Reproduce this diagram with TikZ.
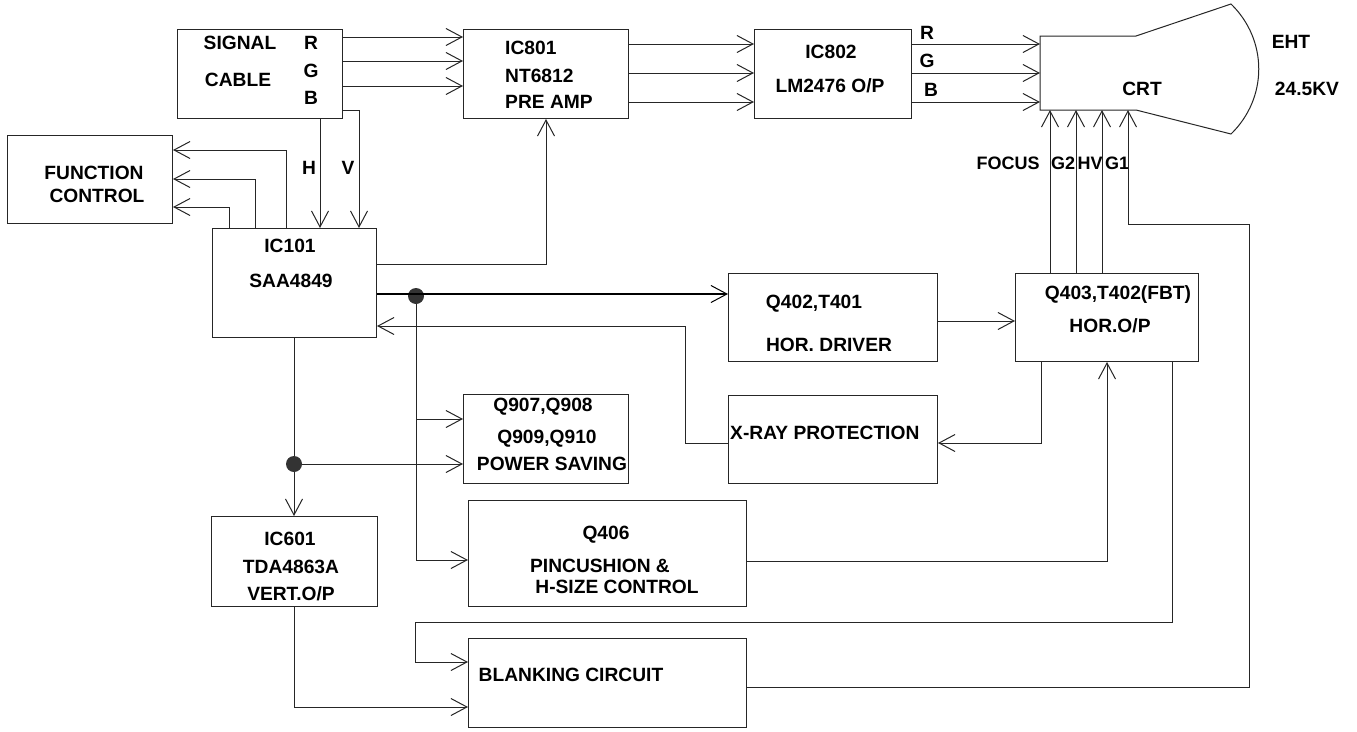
\documentclass[tikz,border=0pt]{standalone}
\usepackage{fontspec}
\setmainfont{Liberation Sans}
\usetikzlibrary{arrows.meta}
\begin{document}
\begin{tikzpicture}[x=1pt,y=-1pt,
  box/.style={draw=black!85, line width=1pt, rectangle, inner sep=0pt, anchor=north west},
  lbl/.style={inner sep=0pt, font=\fontsize{19.2}{23}\selectfont\bfseries, text height=13.7pt, text depth=0pt},
  small/.style={font=\fontsize{18}{22}\selectfont\bfseries, text height=12.9pt},
  wire/.style={draw=black!85, line width=1pt},
  arr/.style={wire, -{Straight Barb[length=16pt,width=17pt]}},
  thickarr/.style={draw=black, line width=1.8pt, -{Straight Barb[length=16pt,width=17pt,line width=1pt]}},
  junction/.style={circle, fill=black!80, inner sep=0pt, minimum size=16pt}]
\fill[white] (0,0) rectangle (1357,731);
\useasboundingbox (0,0) rectangle (1357,731);

% boxes
\node[box, minimum width=165pt, minimum height=89pt] (sig) at (177,29) {};
\node[box, minimum width=165pt, minimum height=89pt] (ic801) at (463,29) {};
\node[box, minimum width=157pt, minimum height=89pt] (ic802) at (754,29) {};
\node[box, minimum width=165pt, minimum height=88pt] (func) at (7,135) {};
\node[box, minimum width=164pt, minimum height=109pt] (ic101) at (212,228) {};
\node[box, minimum width=209pt, minimum height=88pt] (q402) at (728,273) {};
\node[box, minimum width=183pt, minimum height=88pt] (q403) at (1015,273) {};
\node[box, minimum width=209pt, minimum height=88pt] (xray) at (728,395) {};
\node[box, minimum width=165pt, minimum height=89pt] (psave) at (463,394) {};
\node[box, minimum width=166pt, minimum height=90pt] (ic601) at (211,516) {};
\node[box, minimum width=278pt, minimum height=106pt] (q406) at (468,500) {};
\node[box, minimum width=278pt, minimum height=89pt] (blank) at (468,638) {};

% CRT
\draw[wire] (1136,36) -- (1040,36) -- (1040,110) -- (1136,110) -- (1231,134)
  .. controls (1268,98) and (1268,40) .. (1231,4) -- cycle;
\coordinate (crt) at (1040,36);
\coordinate (crtb) at (1040,110);

% texts
\node[lbl] (tsig) at (240,43) {SIGNAL};
\node[lbl] (tcab) at (238,80) {CABLE};
\node[lbl] (tr1) at (311,43) {R};
\node[lbl] (tg1) at (311,71) {G};
\node[lbl] (tb1) at (311,98) {B};
\node[lbl, anchor=west] (t801a) at (505,48) {IC801};
\node[lbl, anchor=west] (t801b) at (505,76) {NT6812};
\node[lbl, anchor=west] (t801c) at (505,102) {PRE AMP};
\node[lbl] (t802a) at (831,52) {IC802};
\node[lbl] (t802b) at (830,86) {LM2476 O/P};
\node[lbl] (tr2) at (927,33) {R};
\node[lbl] (tg2) at (927,61) {G};
\node[lbl] (tb2) at (931,90) {B};
\node[lbl] (tcrt) at (1142,89) {CRT};
\node[lbl] (teht) at (1291,42) {EHT};
\node[lbl] (tkv) at (1307,89) {24.5KV};
\node[lbl, small] (tfoc) at (1008,163) {FOCUS};
\node[lbl, small] (tg2b) at (1063,163) {G2};
\node[lbl, small] (thv) at (1090,163) {HV};
\node[lbl, small] (tg1b) at (1117,163) {G1};
\node[lbl] (tfun) at (94,173) {FUNCTION};
\node[lbl] (tcon) at (97,196) {CONTROL};
\node[lbl] (th) at (309,168) {H};
\node[lbl] (tv) at (348,168) {V};
\node[lbl] (t101a) at (290,246) {IC101};
\node[lbl] (t101b) at (291,281) {SAA4849};
\node[lbl] (t402a) at (814,302) {Q402,T401};
\node[lbl] (t402b) at (829,345) {HOR. DRIVER};
\node[lbl] (t403a) at (1118,293) {Q403,T402(FBT)};
\node[lbl] (t403b) at (1110,326) {HOR.O/P};
\node[lbl, anchor=west] (txr) at (730,433) {X-RAY PROTECTION};
\node[lbl] (tps1) at (543,405) {Q907,Q908};
\node[lbl] (tps2) at (547,437) {Q909,Q910};
\node[lbl] (tps3) at (552,464) {POWER SAVING};
\node[lbl] (t601a) at (290,539) {IC601};
\node[lbl] (t601b) at (291,567) {TDA4863A};
\node[lbl] (t601c) at (291,594) {VERT.O/P};
\node[lbl] (t406a) at (606,533) {Q406};
\node[lbl] (t406b) at (600,566) {PINCUSHION \&};
\node[lbl] (t406c) at (617,587) {H-SIZE CONTROL};
\node[lbl] (tbl) at (571,675) {BLANKING CIRCUIT};

% junctions
\node[junction] (d1) at (416,296) {};
\node[junction] (d2) at (294,464) {};

% connectors
\foreach \yy in {37,61,86} \draw[arr] (sig.east |- 0,\yy) -- (ic801.west |- 0,\yy);
\foreach \yy in {44,73,102} \draw[arr] (ic801.east |- 0,\yy) -- (ic802.west |- 0,\yy);
\foreach \yy in {44,73,102} \draw[arr] (ic802.east |- 0,\yy) -- (crt |- 0,\yy);
\draw[arr] (sig.south -| 320,0) -- (ic101.north -| 320,0);
\draw[arr] (sig.east |- 0,110) -- (359,110) -- (ic101.north -| 359,0);
\draw[arr] (ic101.north -| 286,0) -- (286,150) -- (func.east |- 0,150);
\draw[arr] (ic101.north -| 255,0) -- (255,179) -- (func.east |- 0,179);
\draw[arr] (ic101.north -| 229,0) -- (229,207) -- (func.east |- 0,207);
\draw[arr] (ic101.east |- 0,264) -- (546,264) -- (ic801.south -| 546,0);
\draw[thickarr] (ic101.east |- 0,294) -- (q402.west |- 0,294);
\draw[arr] (xray.west |- 0,443) -- (685,443) -- (685,326) -- (ic101.east |- 0,326);
\draw[arr] (q402.east |- 0,321) -- (q403.west |- 0,321);
\draw[arr] (q403.south -| 1041,0) -- (1041,443) -- (xray.east |- 0,443);
\foreach \xx in {1050,1076,1102} \draw[arr] (q403.north -| \xx,0) -- (crtb -| \xx,0);
\draw[arr] (blank.east |- 0,687) -- (1249,687) -- (1249,224) -- (1128,224) -- (crtb -| 1128,0);
\draw[arr] (q406.east |- 0,561) -- (1107,561) -- (q403.south -| 1107,0);
\draw[arr] (q403.south -| 1172,0) -- (1172,622) -- (415,622) -- (415,662) -- (blank.west |- 0,662);
\draw[wire] (ic101.south -| 294,0) -- (d2);
\draw[arr] (d2) -- (ic601.north -| 294,0);
\draw[arr] (d2) -- (psave.west |- 0,464);
\draw[arr] (d1) -- (d1 |- 0,560) -- (q406.west |- 0,560);
\draw[arr] (d1 |- 0,419) -- (psave.west |- 0,419);
\draw[arr] (ic601.south -| 294,0) -- (294,707) -- (blank.west |- 0,707);
\end{tikzpicture}
\end{document}
